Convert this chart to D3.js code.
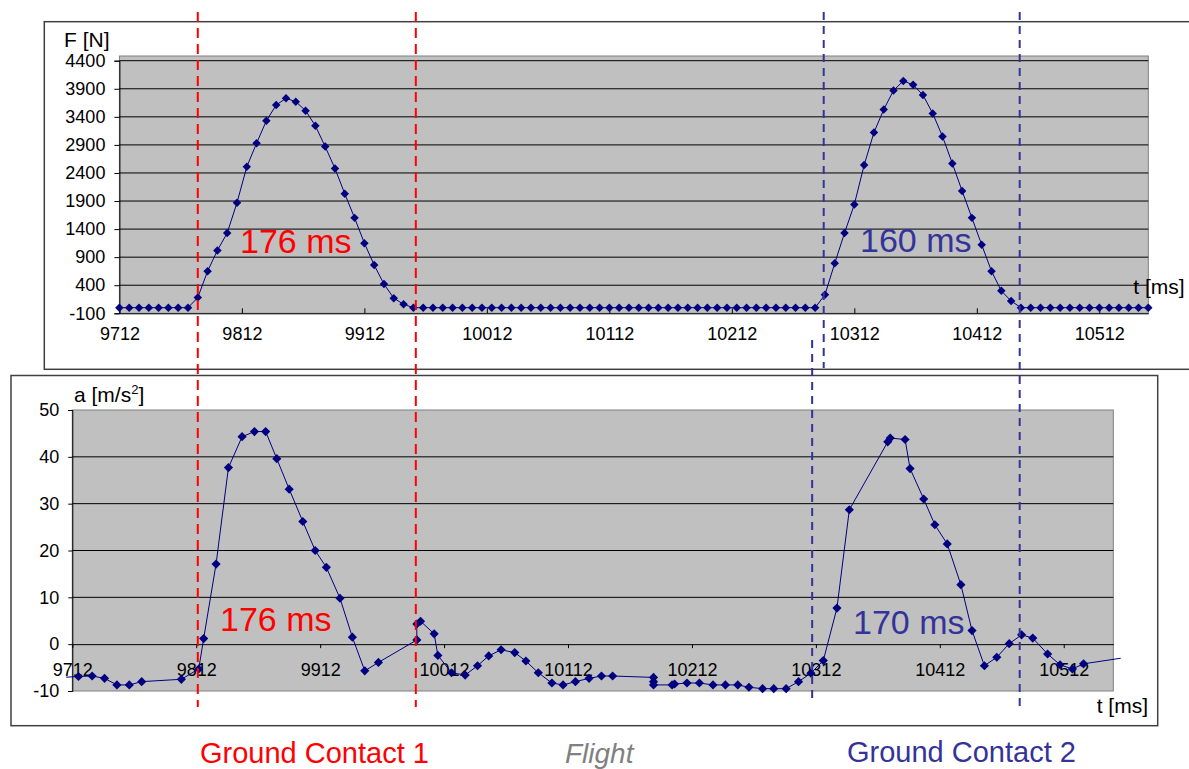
<!DOCTYPE html>
<html>
<head>
<meta charset="utf-8">
<script src="https://cdn.jsdelivr.net/npm/d3@7"></script>
<style>
body { margin: 0; background: #fff; }
svg { display: block; font-family: "Liberation Sans", Arial, sans-serif; }
</style>
</head>
<body>
<div id="chart"></div>
<script>
// force plate signal, one sample every 8 ms
var forceTime = [
    9712, 9720, 9728, 9736, 9744, 9752, 9760, 9768, 9776, 9784,
    9792, 9800, 9808, 9816, 9824, 9832, 9840, 9848, 9856, 9864,
    9872, 9880, 9888, 9896, 9904, 9912, 9920, 9928, 9936, 9944,
    9952, 9960, 9968, 9976, 9984, 9992, 10000, 10008, 10016, 10024,
    10032, 10040, 10048, 10056, 10064, 10072, 10080, 10088, 10096, 10104,
    10112, 10120, 10128, 10136, 10144, 10152, 10160, 10168, 10176, 10184,
    10192, 10200, 10208, 10216, 10224, 10232, 10240, 10248, 10256, 10264,
    10272, 10280, 10288, 10296, 10304, 10312, 10320, 10328, 10336, 10344,
    10352, 10360, 10368, 10376, 10384, 10392, 10400, 10408, 10416, 10424,
    10432, 10440, 10448, 10456, 10464, 10472, 10480, 10488, 10496, 10504,
    10512, 10520, 10528, 10536, 10544, 10552];
var forceValues = [
    0, 0, 0, 0, 0, 0, 0, 0, 180, 650,
    1020, 1330, 1870, 2510, 2930, 3330, 3610, 3730, 3670, 3510,
    3240, 2870, 2480, 2030, 1600, 1150, 760, 420, 170, 60,
    0, 0, 0, 0, 0, 0, 0, 0, 0, 0,
    0, 0, 0, 0, 0, 0, 0, 0, 0, 0,
    0, 0, 0, 0, 0, 0, 0, 0, 0, 0,
    0, 0, 0, 0, 0, 0, 0, 0, 0, 0,
    0, 0, 230, 790, 1330, 1840, 2540, 3120, 3530, 3870,
    4040, 3970, 3790, 3460, 3050, 2570, 2080, 1600, 1120, 650,
    300, 120, 0, 0, 0, 0, 0, 0, 0, 0,
    0, 0, 0, 0, 0, 0];
var forceTicks = [-100, 400, 900, 1400, 1900, 2400, 2900, 3400, 3900, 4400];

// accelerometer signal (irregular samples)
var accTime = [
    9707, 9717, 9728, 9738, 9748, 9758, 9768, 9800, 9814, 9818,
    9828, 9838, 9849, 9859, 9868, 9877, 9887, 9898, 9908, 9917,
    9928, 9938, 9948, 9959, 9990, 9990, 9993, 10004, 10007, 10018,
    10029, 10039, 10048, 10058, 10069, 10078, 10088, 10099, 10108, 10118,
    10129, 10139, 10148, 10181, 10181, 10181, 10196, 10198, 10208, 10218,
    10229, 10239, 10249, 10258, 10269, 10278, 10288, 10298, 10308, 10318,
    10329, 10339, 10370, 10372, 10384, 10388, 10399, 10408, 10418, 10429,
    10438, 10448, 10458, 10468, 10478, 10487, 10499, 10509, 10519, 10528,
    10558];
var accValues = [
    -7.05, -6.9, -6.8, -7.3, -8.7, -8.7, -8.0, -7.5, -5.3, 1.2,
    17.1, 37.7, 44.3, 45.4, 45.4, 39.6, 33.1, 26.2, 20.0, 16.4,
    9.8, 1.5, -5.7, -3.9, 0.9, 4.3, 4.9, 2.2, -2.4, -6.1,
    -6.6, -4.6, -2.5, -1.2, -1.8, -3.6, -6.1, -8.3, -8.7, -8.0,
    -7.3, -6.8, -6.8, -7.1, -8.0, -8.7, -8.7, -8.5, -8.3, -8.3,
    -8.7, -8.7, -8.7, -9.2, -9.5, -9.5, -9.5, -8.0, -6.2, -3.5,
    7.7, 28.7, 43.2, 44.0, 43.7, 37.5, 31.0, 25.5, 21.4, 12.7,
    2.9, -4.6, -2.8, 0.1, 2.0, 1.3, -2.1, -4.4, -5.3, -4.2,
    -3.0];
var accTicks = [-10, 0, 10, 20, 30, 40, 50];

var timeTicks = [9712, 9812, 9912, 10012, 10112, 10212, 10312, 10412, 10512];

// contact start/end marks, in ms on the force time axis
var contact1 = [9776, 9954];
var contact2 = [10287, 10447];
var contact2Acc = 10309; // start of contact 2 as seen on the acceleration axis
var durations = ["176 ms", "160 ms", "176 ms", "170 ms"];
var phases = ["Ground Contact 1", "Flight", "Ground Contact 2"];

var RED = "#ff0000", BLUE = "#333399", NAVY = "#000080";
var width = 1189, height = 769;

var svg = d3.select("#chart").append("svg")
    .attr("width", width)
    .attr("height", height);

var xF = d3.scaleLinear().domain([9712, 10552]).range([119.4, 1148.3]),
    yF = d3.scaleLinear().domain([-100, 4400]).range([313.3, 60.7]),
    xA = d3.scaleLinear().domain([9712, 10552]).range([72.3, 1113.3]),
    yA = d3.scaleLinear().domain([-10, 50]).range([691, 410]);

// plain numbers, hyphen minus, no thousands separator
var plain = function (d) { return String(d); };

// chart frames
svg.append("rect")
    .attr("x", 44.3).attr("y", 21.7)
    .attr("width", 1200).attr("height", 347.6)
    .attr("fill", "#fff").attr("stroke", "#404040").attr("stroke-width", 1.5);
svg.append("rect")
    .attr("x", 11).attr("y", 375.5)
    .attr("width", 1146.7).attr("height", 350.2)
    .attr("fill", "#fff").attr("stroke", "#404040").attr("stroke-width", 1.5);

function styleAxis(g) {
    g.selectAll("path, line").attr("stroke", "#000");
    g.selectAll("text")
        .attr("fill", "#000")
        .attr("font-size", 18)
        .attr("font-family", "Liberation Sans, Arial, sans-serif");
}

// ---- force chart ----
var forceG = svg.append("g");

forceG.append("rect")
    .attr("x", xF.range()[0])
    .attr("y", 56)
    .attr("width", xF.range()[1] - xF.range()[0])
    .attr("height", yF(-100) - 56)
    .attr("fill", "#c0c0c0")
    .attr("stroke", "#808080");

forceG.selectAll(".grid")
    .data(forceTicks.slice(1))
    .enter().append("line")
    .attr("x1", xF.range()[0]).attr("x2", xF.range()[1])
    .attr("y1", function (d) { return yF(d); })
    .attr("y2", function (d) { return yF(d); })
    .attr("stroke", "#000");

forceG.append("g")
    .attr("transform", "translate(" + xF.range()[0] + ",0)")
    .call(d3.axisLeft(yF).tickValues(forceTicks).tickSize(5).tickPadding(9).tickFormat(plain))
    .call(styleAxis);

forceG.append("g")
    .attr("transform", "translate(0," + yF(-100) + ")")
    .call(d3.axisBottom(xF).tickValues(timeTicks).tickSizeInner(-5).tickSizeOuter(0).tickPadding(14).tickFormat(plain))
    .call(styleAxis);

var forcePts = forceTime.map(function (t, i) { return { t: t, v: forceValues[i] }; });

forceG.append("path")
    .datum(forcePts)
    .attr("fill", "none")
    .attr("stroke", NAVY)
    .attr("stroke-width", 1)
    .attr("d", d3.line().x(function (d) { return xF(d.t); }).y(function (d) { return yF(d.v); }));

forceG.selectAll(".dot")
    .data(forcePts)
    .enter().append("path")
    .attr("d", d3.symbol(d3.symbolSquare, 36))
    .attr("transform", function (d) { return "translate(" + xF(d.t) + "," + yF(d.v) + ")rotate(45)"; })
    .attr("fill", NAVY);

forceG.append("text").attr("x", 64).attr("y", 46.7)
    .attr("font-size", 21).text("F [N]");
forceG.append("text").attr("x", 1133.3).attr("y", 294.3)
    .attr("font-size", 21).text("t [ms]");

// ---- acceleration chart ----
var accG = svg.append("g");

accG.append("rect")
    .attr("x", xA.range()[0])
    .attr("y", yA(50))
    .attr("width", xA.range()[1] - xA.range()[0])
    .attr("height", yA(-10) - yA(50))
    .attr("fill", "#c0c0c0")
    .attr("stroke", "#808080");

accG.selectAll(".grid")
    .data([10, 20, 30, 40])
    .enter().append("line")
    .attr("x1", xA.range()[0]).attr("x2", xA.range()[1])
    .attr("y1", function (d) { return yA(d); })
    .attr("y2", function (d) { return yA(d); })
    .attr("stroke", "#000");

accG.append("g")
    .attr("transform", "translate(" + xA.range()[0] + ",0)")
    .call(d3.axisLeft(yA).tickValues(accTicks).tickSize(4).tickPadding(9).tickFormat(plain))
    .call(styleAxis);

accG.append("g")
    .attr("transform", "translate(0," + yA(0) + ")")
    .call(d3.axisBottom(xA).tickValues(timeTicks).tickSizeInner(4).tickSizeOuter(0).tickPadding(15).tickFormat(plain))
    .call(styleAxis);

var accPts = accTime.map(function (t, i) { return { t: t, v: accValues[i] }; });

accG.append("path")
    .datum(accPts)
    .attr("fill", "none")
    .attr("stroke", NAVY)
    .attr("stroke-width", 1)
    .attr("d", d3.line().x(function (d) { return xA(d.t); }).y(function (d) { return yA(d.v); }));

accG.selectAll(".dot")
    .data(accPts.filter(function (d) { return d.t >= 9712 && d.t <= 10552; }))
    .enter().append("path")
    .attr("d", d3.symbol(d3.symbolSquare, 42))
    .attr("transform", function (d) { return "translate(" + xA(d.t) + "," + yA(d.v) + ")rotate(45)"; })
    .attr("fill", NAVY);

var aLabel = accG.append("text").attr("x", 74).attr("y", 401.7).attr("font-size", 21);
aLabel.append("tspan").text("a [m/s");
aLabel.append("tspan").attr("font-size", 13).attr("dy", -8).text("2");
aLabel.append("tspan").attr("dy", 8).text("]");
accG.append("text").attr("x", 1096.7).attr("y", 713.3)
    .attr("font-size", 21).text("t [ms]");

// ---- contact markers ----
var marks = svg.append("g").attr("fill", "none").attr("stroke-width", 2);

marks.selectAll(".c1")
    .data(contact1)
    .enter().append("line")
    .attr("x1", function (d) { return xF(d); }).attr("x2", function (d) { return xF(d); })
    .attr("y1", 12).attr("y2", 707)
    .attr("stroke", RED)
    .attr("stroke-dasharray", "10,6");

marks.append("line")
    .attr("x1", xF(contact2[0])).attr("x2", xF(contact2[0]))
    .attr("y1", 12).attr("y2", 368)
    .attr("stroke", BLUE).attr("stroke-dasharray", "8,6");
marks.append("line")
    .attr("x1", xF(contact2[1])).attr("x2", xF(contact2[1]))
    .attr("y1", 12).attr("y2", 707)
    .attr("stroke", BLUE).attr("stroke-dasharray", "8,6");
marks.append("line")
    .attr("x1", xA(contact2Acc)).attr("x2", xA(contact2Acc))
    .attr("y1", 340).attr("y2", 700)
    .attr("stroke", BLUE).attr("stroke-dasharray", "8,6");

var notes = [
    { text: durations[0], x: 240, y: 252.7, c: RED },
    { text: durations[1], x: 860, y: 252.3, c: BLUE },
    { text: durations[2], x: 220, y: 631, c: RED },
    { text: durations[3], x: 853, y: 634, c: BLUE }
];
svg.selectAll(".note")
    .data(notes)
    .enter().append("text")
    .attr("x", function (d) { return d.x; })
    .attr("y", function (d) { return d.y; })
    .attr("fill", function (d) { return d.c; })
    .attr("font-size", 34)
    .text(function (d) { return d.text; });

// phase captions
svg.append("text").attr("x", 200).attr("y", 763)
    .attr("font-size", 29).attr("fill", RED).text(phases[0]);
svg.append("text").attr("x", 565).attr("y", 763)
    .attr("font-size", 28).attr("font-style", "italic").attr("fill", "#808080").text(phases[1]);
svg.append("text").attr("x", 847).attr("y", 762)
    .attr("font-size", 29).attr("fill", BLUE).text(phases[2]);
</script>
</body>
</html>
